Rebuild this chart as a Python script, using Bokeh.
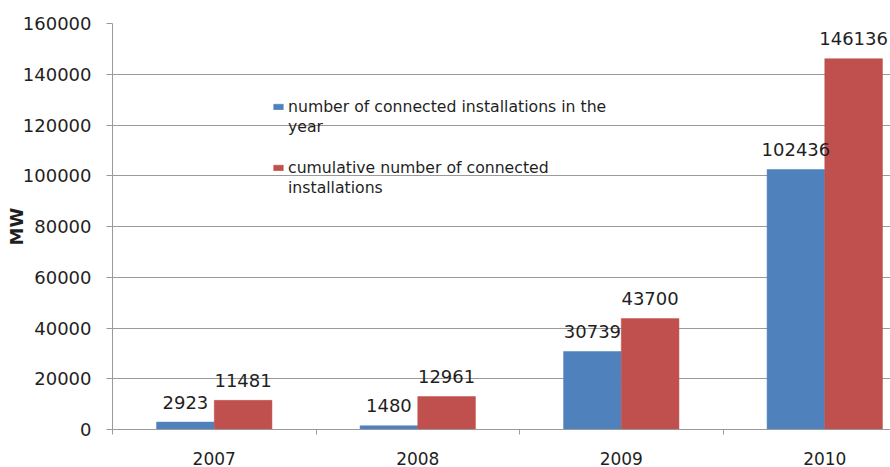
import numpy as np
from bokeh.plotting import figure
from bokeh.models import (ColumnDataSource, Range1d, FixedTicker, LabelSet,
                          Legend, LegendItem, BasicTickFormatter)
from bokeh.core.properties import value
from bokeh.embed import file_html
from bokeh.resources import INLINE

years = ["2007", "2008", "2009", "2010"]
yearly = [2923, 1480, 30739, 102436]
cumulative = [11481, 12961, 43700, 146136]
y_ticks = [0, 20000, 40000, 60000, 80000, 100000, 120000, 140000, 160000]
legend_a = ["number of connected installations in the", "year"]
legend_b = ["cumulative number of connected", "installations"]

BLUE = "#4F81BD"
RED = "#C0504D"
GRAY = "#9a9a9a"
TXT = "#1f1f1f"
FONT = "DejaVu Sans"

BW = 0.2835
idx = np.arange(len(years))
src_a = ColumnDataSource(dict(x=idx - BW / 2, top=yearly, label=[str(v) for v in yearly]))
src_b = ColumnDataSource(dict(x=idx + BW / 2, top=cumulative, label=[str(v) for v in cumulative]))

p = figure(width=890, height=467, x_range=Range1d(-0.5, 3.323), y_range=Range1d(0, 160000),
           output_backend="svg", toolbar_location=None,
           min_border_left=112, min_border_right=0, min_border_top=23, min_border_bottom=37)
p.outline_line_color = None
p.background_fill_color = "white"
p.border_fill_color = "white"
p.xgrid.visible = False
p.ygrid.grid_line_color = GRAY
p.ygrid.ticker = FixedTicker(ticks=y_ticks)

r1 = p.vbar(x="x", top="top", width=BW, source=src_a, fill_color=BLUE, line_color=BLUE, line_width=0.5)
r2 = p.vbar(x="x", top="top", width=BW, source=src_b, fill_color=RED, line_color=RED, line_width=0.5)
blank = p.vbar(x=[], top=[], width=BW, fill_alpha=0, line_alpha=0)

for src in (src_a, src_b):
    p.add_layout(LabelSet(x="x", y="top", text="label", source=src, text_align="center",
                          text_baseline="alphabetic", y_offset=13.5, text_font=value(FONT),
                          text_font_size="18px", text_color=TXT))

# y axis
ya = p.yaxis[0]
ya.ticker = FixedTicker(ticks=y_ticks)
ya.formatter = BasicTickFormatter(use_scientific=False)
ya.axis_line_color = GRAY
ya.major_tick_line_color = GRAY
ya.major_tick_out = 6
ya.major_tick_in = 0
ya.minor_tick_line_color = None
ya.major_label_standoff = 15
ya.major_label_text_font = FONT
ya.major_label_text_font_size = "18px"
ya.major_label_text_color = TXT
ya.axis_label = "MW"
ya.axis_label_text_font = FONT
ya.axis_label_text_font_size = "18px"
ya.axis_label_text_font_style = "bold"
ya.axis_label_text_color = TXT
ya.axis_label_standoff = -7

# x axis: labels at category centres, ticks at category boundaries
xa = p.xaxis[0]
xa.ticker = FixedTicker(ticks=list(idx), minor_ticks=[-0.5, 0.5, 1.5, 2.5, 3.5])
xa.major_label_overrides = {int(i): y for i, y in zip(idx, years)}
xa.axis_line_color = GRAY
xa.major_tick_out = 0
xa.major_tick_in = 0
xa.major_tick_line_color = None
xa.minor_tick_line_color = GRAY
xa.minor_tick_out = 5
xa.minor_tick_in = 0
xa.major_label_standoff = 17
xa.major_label_text_font = FONT
xa.major_label_text_font_size = "17px"
xa.major_label_text_color = TXT

common = dict(padding=0, spacing=0, label_standoff=4, glyph_width=12, glyph_height=7,
              label_height=20, label_text_font=FONT, label_text_font_size="15.7px",
              label_text_color=TXT, background_fill_alpha=0, border_line_color=None, margin=0)
leg_a = Legend(items=[LegendItem(label=legend_a[0], renderers=[r1]),
                      LegendItem(label=legend_a[1], renderers=[blank])],
               location=(160, 293), **common)
leg_b = Legend(items=[LegendItem(label=legend_b[0], renderers=[r2]),
                      LegendItem(label=legend_b[1], renderers=[blank])],
               location=(160, 232), **common)
p.add_layout(leg_a)
p.add_layout(leg_b)

open("out.html", "w").write(file_html(p, INLINE))
